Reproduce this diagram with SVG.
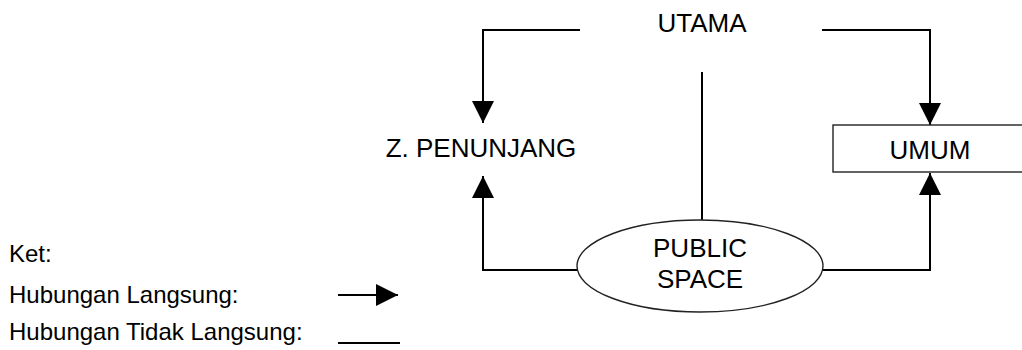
<svg xmlns="http://www.w3.org/2000/svg" width="1022" height="350" viewBox="0 0 1022 350">
  <style>
    .lbl { font-family: "Liberation Sans", Arial, sans-serif; font-size: 26px; fill: #000; text-anchor: middle; }
    .key { font-family: "Liberation Sans", Arial, sans-serif; font-size: 24px; fill: #000; }
    .link { fill: none; stroke: #000; stroke-width: 2; }
    .shape { fill: #fff; stroke: #222; stroke-width: 1.4; }
  </style>
  <defs>
    <marker id="head" viewBox="0 0 22 22" markerWidth="22" markerHeight="22" markerUnits="userSpaceOnUse" refX="22" refY="11" orient="auto">
      <path d="M0,0 L22,11 L0,22 z" fill="#000"/>
    </marker>
  </defs>
  <rect width="1022" height="350" fill="#fff"/>

  <!-- connectors -->
  <g id="connectors">
    <path class="link" d="M580,30 H483 V123" marker-end="url(#head)"/>
    <path class="link" d="M822,30 H930 V125" marker-end="url(#head)"/>
    <path class="link" d="M702,72 V220"/>
    <path class="link" d="M577,270 H483 V176" marker-end="url(#head)"/>
    <path class="link" d="M823,270 H930 V173" marker-end="url(#head)"/>
  </g>

  <!-- nodes -->
  <g id="utama">
    <text class="lbl" x="702" y="32">UTAMA</text>
  </g>
  <g id="penunjang">
    <text class="lbl" x="481" y="157">Z. PENUNJANG</text>
  </g>
  <g id="umum">
    <rect class="shape" x="833" y="125" width="200" height="47"/>
    <text class="lbl" x="930" y="159">UMUM</text>
  </g>
  <g id="public-space">
    <ellipse class="shape" cx="700" cy="266" rx="123" ry="46"/>
    <text class="lbl" x="700" y="257">PUBLIC</text>
    <text class="lbl" x="700" y="288">SPACE</text>
  </g>

  <!-- legend -->
  <g id="legend">
    <text class="key" x="9" y="262">Ket:</text>
    <text class="key" x="9" y="303">Hubungan Langsung:</text>
    <text class="key" x="9" y="340">Hubungan Tidak Langsung:</text>
    <path class="link" d="M338,295 H398" marker-end="url(#head)"/>
    <path class="link" d="M338,343 H400"/>
  </g>
</svg>
